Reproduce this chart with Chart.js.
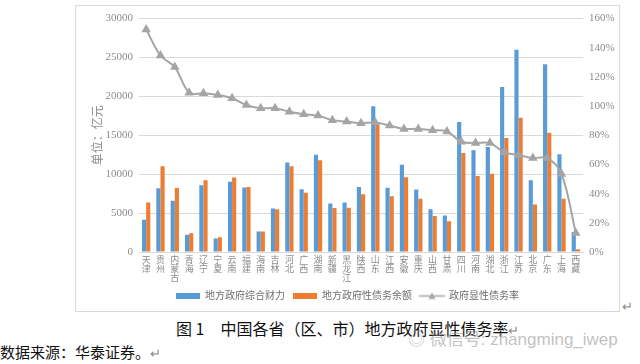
<!DOCTYPE html>
<html>
<head>
<meta charset="utf-8">
<script src="https://cdn.jsdelivr.net/npm/chart.js@4"></script>
<style>
  body{margin:0;width:640px;height:364px;background:#fff;position:relative;overflow:hidden;font-family:"Noto Sans CJK SC",sans-serif;}
  #box{position:absolute;left:75px;top:5px;width:545px;height:307px;border:1px solid #d9d9d9;box-sizing:border-box;}
  #caption{position:absolute;left:176px;top:316px;font-size:16px;color:#111;white-space:nowrap;}
  #source{position:absolute;left:0;top:341px;font-size:15px;color:#111;white-space:nowrap;}
  #mark{position:absolute;left:408px;top:325px;font-size:17px;color:rgba(140,140,140,0.55);white-space:nowrap;font-family:"Liberation Sans","Noto Sans CJK SC",sans-serif;}
  .ret{color:#888;font-size:13px;}
  #ret1{position:absolute;left:622px;top:296px;}
</style>
</head>
<body>
<div id="box"><canvas id="chart"></canvas></div>
<span id="ret1" class="ret">↵</span>
<div id="caption">图 1　中国各省（区、市）地方政府显性债务率<span class="ret">↵</span></div>
<div id="mark">◎ 微信号: zhangming_iwep</div>
<div id="source">数据来源：华泰证券。<span class="ret">↵</span></div>
<script>
// ===== DATA =====
const provinces = ["天津","贵州","内蒙古","青海","辽宁","宁夏","云南","福建","海南","吉林","河北","广西","湖南","新疆","黑龙江","陕西","山东","江西","安徽","重庆","山西","甘肃","四川","河南","湖北","浙江","江苏","北京","广东","上海","西藏"];
const finance = [4160,8190,6600,2230,8570,1720,9040,8280,2620,5580,11490,8060,12510,6220,6350,8350,18720,8270,11230,8020,5490,4680,16700,13070,13490,21200,26000,9210,24120,12550,2570];
const debt = [6350,11010,8220,2400,9210,1890,9560,8350,2620,5490,11010,7630,11780,5650,5700,7410,16700,7160,9600,6860,4630,3950,12720,9770,10070,14650,17270,6090,15340,6860,350];
const ratio = [152.5,134.7,126.8,109.2,108.8,107.6,105.4,100.7,98.6,98.6,96.2,94.5,93.5,90.4,89.4,88.3,88.7,86.7,84.4,84.4,83.5,82.6,75.6,74.8,74.7,68.3,66.5,64.4,64.4,53.5,13];
const seriesNames = ["地方政府综合财力","地方政府性债务余额","政府显性债务率"];

const BLUE = "#5B9BD5", ORANGE = "#ED7D31", GREY = "#A5A5A5";
const numFont = "'Liberation Serif','Noto Sans CJK SC',serif";

// legend swatch for the line series (line + triangle)
function lineSwatch(){
    let c = document.createElement("canvas");
    c.width = 26; c.height = 9;
    let g = c.getContext("2d");
    g.strokeStyle = GREY; g.lineWidth = 1.5;
    g.beginPath(); g.moveTo(0,4.5); g.lineTo(26,4.5); g.stroke();
    g.fillStyle = GREY;
    g.beginPath(); g.moveTo(13,1); g.lineTo(16.5,7.5); g.lineTo(9.5,7.5); g.closePath(); g.fill();
    return c;
}
const swatch = lineSwatch();

const ctx = document.getElementById("chart").getContext("2d");
new Chart(ctx, {
    type: "bar",
    data: {
        labels: provinces.map(p => p.split("")),
        datasets: [
            {label: seriesNames[0], data: finance, backgroundColor: BLUE, yAxisID: "y", order: 2,
             categoryPercentage: 0.58, barPercentage: 1.0},
            {label: seriesNames[1], data: debt, backgroundColor: ORANGE, yAxisID: "y", order: 2,
             categoryPercentage: 0.58, barPercentage: 1.0},
            {type: "line", label: seriesNames[2], data: ratio.map(v => v/100), yAxisID: "y1", order: 1,
             borderColor: GREY, backgroundColor: GREY, borderWidth: 2, tension: 0.35,
             pointStyle: "triangle", pointRadius: 3.5, pointBackgroundColor: GREY, pointBorderColor: GREY}
        ]
    },
    options: {
        responsive: true,
        maintainAspectRatio: false,
        animation: false,
        layout: {padding: {top: 12, bottom: 0, left: 0, right: 0}},
        plugins: {
            tooltip: {enabled: false},
            legend: {
                position: "bottom",
                labels: {
                    usePointStyle: true,
                    pointStyleWidth: 24,
                    boxHeight: 6,
                    padding: 8,
                    color: "#6e6e6e",
                    font: {size: 10, family: numFont},
                    generateLabels: chart => chart.data.datasets.map((ds,i) => ({
                        text: ds.label,
                        fillStyle: ds.backgroundColor,
                        strokeStyle: ds.backgroundColor,
                        lineWidth: 0,
                        pointStyle: i == 2 ? swatch : "rect",
                        datasetIndex: i,
                        fontColor: "#6e6e6e"
                    }))
                }
            }
        },
        scales: {
            x: {
                grid: {display: false, drawTicks: false},
                border: {display: true, color: "#d9d9d9"},
                ticks: {color: "#8c8c8c", font: {size: 9, family: numFont, lineHeight: 1.0}, padding: 4,
                        maxRotation: 0, autoSkip: false},
                afterFit: s => { s.height = 31; }
            },
            y: {
                position: "left",
                min: 0, max: 30000,
                ticks: {stepSize: 5000, color: "#8c8c8c", font: {size: 11, family: numFont}, padding: 6,
                        callback: v => String(v)},
                grid: {color: "#d9d9d9", drawTicks: false},
                border: {display: false},
                title: {display: true, text: "单位：亿元", color: "#8c8c8c", font: {size: 12, family: numFont},
                        padding: {top: 16, bottom: 0}},
                afterFit: s => { s.width = 63; }
            },
            y1: {
                position: "right",
                min: 0, max: 1.6,
                ticks: {stepSize: 0.2, color: "#8c8c8c", font: {size: 11, family: numFont}, padding: 6,
                        callback: v => Math.round(v*100) + "%"},
                grid: {display: false, drawTicks: false},
                border: {display: false},
                afterFit: s => { s.width = 36; }
            }
        }
    }
});
</script>
</body>
</html>
